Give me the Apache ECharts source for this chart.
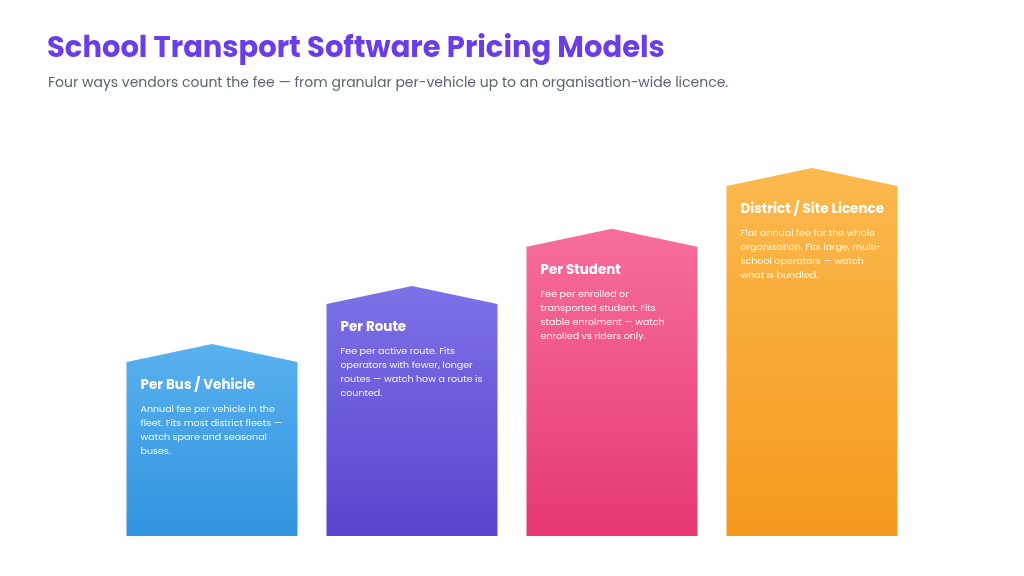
<!DOCTYPE html><html><head><meta charset="utf-8"><script src="https://cdn.jsdelivr.net/npm/echarts@6/dist/echarts.min.js"></script>
<style>html,body{margin:0;background:#fff}#c{width:1024px;height:576px}</style></head><body><div id="c"></div><script>
const categories=['Per Bus / Vehicle','Per Route','Per Student','District / Site Licence'];
const levels=[43.5,58,72.3,87.5];
const descriptions=['Annual fee per vehicle in the\nfleet. Fits most district fleets —\nwatch spare and seasonal\nbuses.','Fee per active route. Fits\noperators with fewer, longer\nroutes — watch how a route is\ncounted.','Fee per enrolled or\ntransported student. Fits\nstable enrolment — watch\nenrolled vs riders only.','Flat annual fee for the whole\norganisation. Fits large, multi-\nschool operators — watch\nwhat is bundled.'];
const colors=[['#58b1ef','#3393df'],['#7c72e7','#5944cd'],['#f76e9d','#e53873'],['#fbb94e','#f5991d']];
const chart=echarts.init(document.getElementById('c'));
const F='Poppins, Inter, "Open Sans", sans-serif';
chart.setOption({
title:[{text:'School Transport Software Pricing Models',left:42,top:30,textStyle:{fontFamily:F,fontSize:29,fontWeight:'bold',color:'#6a3de8'}},
{text:'Four ways vendors count the fee — from granular per-vehicle up to an organisation-wide licence.',left:43,top:71,textStyle:{fontFamily:F,fontSize:14,fontWeight:'normal',color:'#5a6275'}}],
grid:{left:112,right:112,top:136,bottom:40},
xAxis:{type:'category',data:categories,show:false},
yAxis:{type:'value',min:0,max:100,show:false},
series:[{type:'custom',data:levels.map((v,i)=>[i,v]),renderItem:(p,api)=>{
 const i=api.value(0),v=api.value(1);
 const top=api.coord([i,v]),base=api.coord([i,0]);
 const w=171,x0=top[0]-w/2,x1=top[0]+w/2,peak=18;
 return {type:'group',children:[
 {type:'polygon',shape:{points:[[x0,base[1]],[x0,top[1]],[top[0],top[1]-peak],[x1,top[1]],[x1,base[1]]]},
  style:{fill:new echarts.graphic.LinearGradient(0,0,0,1,[{offset:0,color:colors[i][0]},{offset:1,color:colors[i][1]}])}},
 {type:'text',x:x0+14,y:top[1]+17,style:{text:categories[i],fill:'#fff',font:'bold 13.5px '+F}},
 {type:'text',x:x0+14,y:top[1]+41,style:{text:descriptions[i],fill:'rgba(255,255,255,0.92)',font:'9.5px '+F,lineHeight:14}}
 ]};
}}]
});
</script></body></html>
